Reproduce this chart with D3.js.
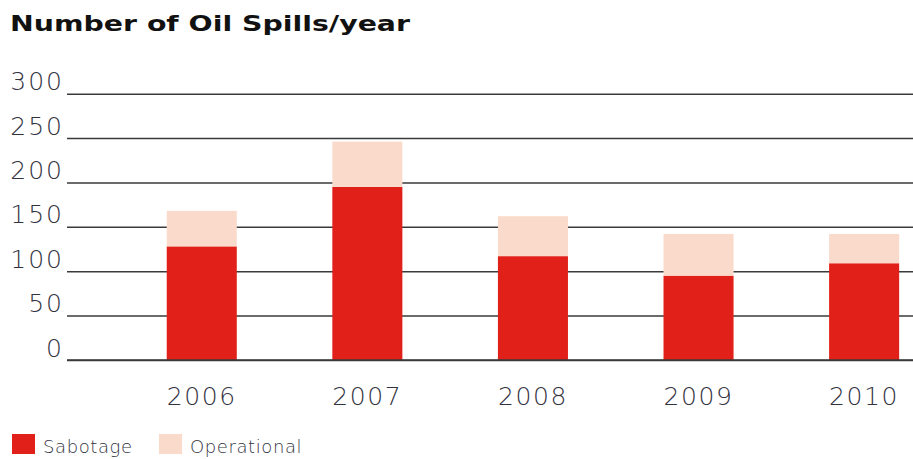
<!DOCTYPE html>
<html>
<head>
<meta charset="utf-8">
<script src="https://cdn.jsdelivr.net/npm/d3@7"></script>
<style>
  body { margin: 0; background: #fff; }
  svg { display: block; }
  .axis text { font-family: "DejaVu Sans", sans-serif; font-weight: 200; fill: #33333f; }
</style>
</head>
<body>
<div id="chart"></div>
<script>
// data
const years = ['2006', '2007', '2008', '2009', '2010'];
const sabotage = [128, 195, 117, 95, 109];
const operational = [40, 51, 45, 47, 33];
const yTicks = [0, 50, 100, 150, 200, 250, 300];
const seriesNames = ['Sabotage', 'Operational'];
const seriesColors = ['#e2201a', '#fadbcb'];

const config = {
  width: 913,
  height: 459,
  margin: { top: 93.7, left: 67, right: 0, bottom: 99 }
};

const svg = d3.select('#chart').append('svg')
  .attr('width', config.width)
  .attr('height', config.height);

const innerW = config.width - config.margin.left - config.margin.right;
const innerH = config.height - config.margin.top - config.margin.bottom;

const chart = svg.append('g')
  .attr('transform', `translate(${config.margin.left}, ${config.margin.top})`);

// title
svg.append('text')
  .attr('x', 10)
  .attr('y', 31)
  .attr('font-family', '"DejaVu Sans", sans-serif')
  .attr('font-weight', 'bold')
  .attr('font-size', 21)
  .attr('fill', '#111')
  .attr('textLength', 400)
  .attr('lengthAdjust', 'spacingAndGlyphs')
  .text('Number of Oil Spills/year');

const yScale = d3.scaleLinear()
  .domain([0, 300])
  .range([innerH, 0]);

const xScale = d3.scaleBand()
  .domain(years)
  .range([0, innerW])
  .paddingInner(0.577)
  .paddingOuter(0.343)
  .align(0.878);

// gridlines + y labels
const yAxis = d3.axisLeft(yScale)
  .tickValues(yTicks)
  .tickSize(-innerW)
  .tickPadding(3);

const yAxisGroup = chart.append('g')
  .attr('class', 'axis y-axis')
  .call(yAxis);

yAxisGroup.select('.domain').remove();
yAxisGroup.selectAll('.tick line')
  .attr('stroke', '#3a3a3a')
  .attr('stroke-width', 1.5);
yAxisGroup.selectAll('.tick text')
  .attr('font-size', 25)
  .attr('letter-spacing', 2)
  .attr('dy', -4);

// stacked bars
const table = years.map((y, i) => ({ year: y, Sabotage: sabotage[i], Operational: operational[i] }));
const stacked = d3.stack().keys(seriesNames)(table);

chart.selectAll('.series')
  .data(stacked)
  .join('g')
  .attr('class', 'series')
  .attr('fill', (d, i) => seriesColors[i])
  .selectAll('rect')
  .data(d => d)
  .join('rect')
  .attr('x', d => xScale(d.data.year))
  .attr('y', d => yScale(d[1]))
  .attr('width', xScale.bandwidth())
  .attr('height', d => yScale(d[0]) - yScale(d[1]));

// baseline over the bars
chart.append('line')
  .attr('x1', 0)
  .attr('x2', innerW)
  .attr('y1', yScale(0))
  .attr('y2', yScale(0))
  .attr('stroke', '#3a3a3a')
  .attr('stroke-width', 1.5);

// x labels
const xAxis = d3.axisBottom(xScale).tickSize(0);
const xAxisGroup = chart.append('g')
  .attr('class', 'axis x-axis')
  .attr('transform', `translate(0, ${innerH})`)
  .call(xAxis);
xAxisGroup.select('.domain').remove();
xAxisGroup.selectAll('.tick text')
  .attr('font-size', 25)
  .attr('letter-spacing', 1.6)
  .attr('y', 45)
  .attr('dy', 0);

// legend
const legend = svg.append('g').attr('class', 'legend');
const legendX = [12, 159];
seriesNames.forEach((name, i) => {
  legend.append('rect')
    .attr('x', legendX[i])
    .attr('y', 434)
    .attr('width', 23)
    .attr('height', 20)
    .attr('fill', seriesColors[i]);
  legend.append('text')
    .attr('x', legendX[i] + 31)
    .attr('y', 453)
    .attr('font-family', '"DejaVu Sans", sans-serif')
    .attr('font-weight', 200)
    .attr('font-size', 18)
    .attr('letter-spacing', 0.6)
    .attr('fill', '#33333f')
    .text(name);
});
</script>
</body>
</html>
